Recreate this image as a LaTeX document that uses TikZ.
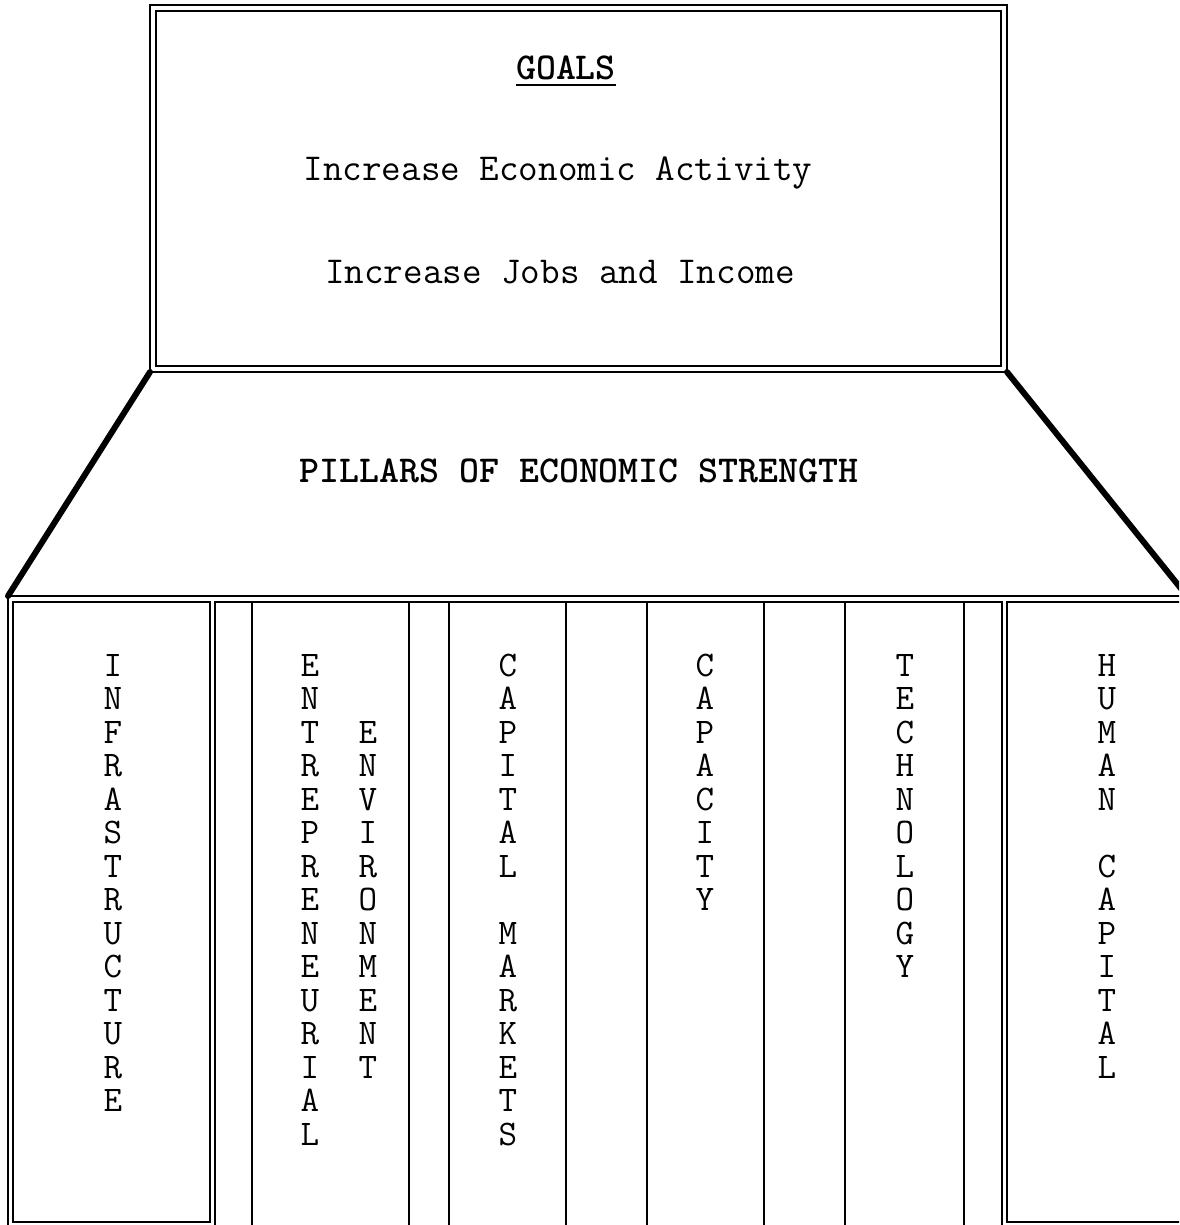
\documentclass[tikz,border=0pt]{standalone}
\usepackage{fontspec}
\newcommand\pillarword[4]{%
  \foreach \ch [count=\i] in {#4}
    \node[letter] (#1\i) at (#2,{676+33.5*(\i+#3-2)}) {\ch};}
\begin{document}
\begin{tikzpicture}[x=1pt,y=-1pt,
  frame/.style={line width=2pt, line join=miter},
  slant/.style={line width=6pt, line cap=round},
  txt/.style={font=\ttfamily\fontsize{38}{40}\selectfont, inner sep=0pt, anchor=base},
  boldtxt/.style={txt, font=\ttfamily\bfseries\fontsize{38}{40}\selectfont},
  letter/.style={font=\ttfamily\fontsize{36}{40}\selectfont, inner sep=0pt, anchor=base}]
\useasboundingbox (0,0) rectangle (1179,1225);
\fill[white] (0,0) rectangle (1179,1225);
\clip (0,0) rectangle (1179,1225);

% top goals box (double border)
\draw[frame] (150,5) rectangle (1007,372);
\draw[frame] (156,11) rectangle (1001,366);

% trapezoid sides
\draw[slant] (150,372) -- (8,596);
\draw[slant] (1007,372) -- (1187,596);

% pillar area outer frame
\draw[frame] (8,1240) -- (8,596) -- (1190,596);
% infrastructure box
\draw[frame] (13,602) rectangle (210,1222);
% middle box
\draw[frame] (215,1240) -- (215,602) -- (1002,602) -- (1002,1240);
% human capital box
\draw[frame] (1190,1222) -- (1007,1222) -- (1007,602) -- (1190,602);
% dividers
\foreach \xx in {252,409,449,566,647,764,845,964}
  \draw[frame] (\xx,602) -- (\xx,1240);

% texts
\node[boldtxt] (goals) at (566,80) {GOALS};
\draw[line width=2.5pt] ([yshift=-5pt]goals.base west) -- ([yshift=-5pt]goals.base east);
\node[txt] (g1) at (558,181) {Increase Economic Activity};
\node[txt] (g2) at (560,283) {Increase Jobs and Income};
\node[boldtxt] (pillars) at (579,482) {PILLARS OF ECONOMIC STRENGTH};

\pillarword{inf}{113}{1}{I,N,F,R,A,S,T,R,U,C,T,U,R,E}
\pillarword{ent}{310}{1}{E,N,T,R,E,P,R,E,N,E,U,R,I,A,L}
\pillarword{env}{368}{3}{E,N,V,I,R,O,N,M,E,N,T}
\pillarword{cap}{508}{1}{C,A,P,I,T,A,L}
\pillarword{mkt}{508}{9}{M,A,R,K,E,T,S}
\pillarword{cty}{705}{1}{C,A,P,A,C,I,T,Y}
\pillarword{tec}{905}{1}{T,E,C,H,N,O,L,O,G,Y}
\pillarword{hum}{1107}{1}{H,U,M,A,N}
\pillarword{hcp}{1107}{7}{C,A,P,I,T,A,L}
\end{tikzpicture}
\end{document}
